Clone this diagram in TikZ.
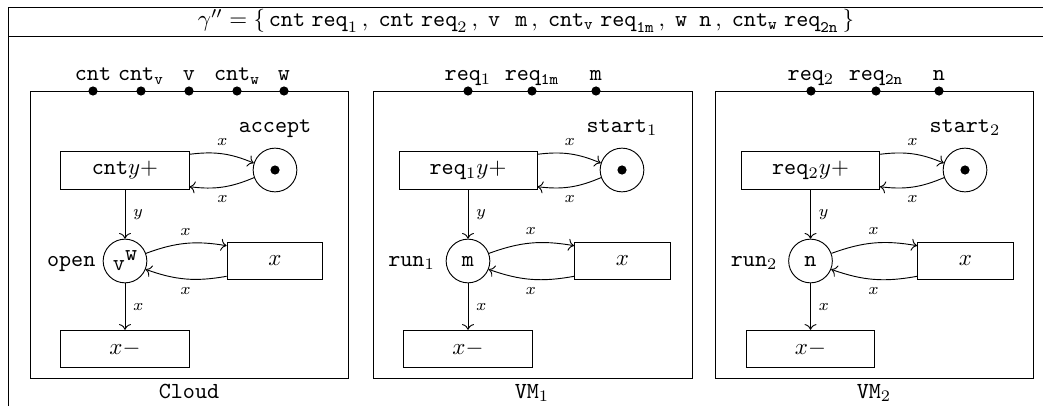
\documentclass[tikz,border=0pt]{standalone}
\usepackage{amsmath}
\usepackage{tikz}
\usetikzlibrary{positioning,arrows.meta}

\begin{document}
\begin{tikzpicture}[x=0.4348pt,y=0.4348pt,
  trn/.style={draw,minimum height=16.3pt,inner sep=0pt},
  plc/.style={draw,circle,minimum size=19pt,inner sep=0pt},
  tok/.style={fill,circle,inner sep=0pt,minimum size=4pt},
  port/.style={fill,circle,inner sep=0pt,minimum size=4pt},
  plbl/.style={inner sep=0pt,text depth=0pt,label distance=2pt,font=\ttfamily},
  el/.style={font=\scriptsize}]
\useasboundingbox (0,0) rectangle (1043,406);
% table frame
\draw (8,0) -- (8,399) -- (1043,399);
\draw (8,369.5) -- (1043,369.5);
\node (hdr) at (526,385) {$\gamma'' = \{\,\texttt{cnt}\;\texttt{req}_1\,,\;\texttt{cnt}\;\texttt{req}_2\,,\;\texttt{v}\ \ \texttt{m}\,,\;\texttt{cnt}_{\texttt{v}}\;\texttt{req}_{\texttt{1m}}\,,\;\texttt{w n}\,,\;\texttt{cnt}_{\texttt{w}}\;\texttt{req}_{\texttt{2n}}\,\}$};
% Cloud
\begin{scope}
  \draw (30,28) rectangle (348,315);
  \node[port,label={[plbl]above:cnt}] (pc) at (93,315) {};
  \node[port,label={[plbl]above:cnt$_{\texttt{v}}$}] (pcv) at (141,315) {};
  \node[port,label={[plbl]above:v}] (pv) at (189,315) {};
  \node[port,label={[plbl]above:cnt$_{\texttt{w}}$}] (pcw) at (237,315) {};
  \node[port,label={[plbl]above:w}] (pw) at (284,315) {};
  \node[trn,minimum width=55.7pt] (cinc) at (125,235.5) {\texttt{cnt}$y{+}$};
  \node[plc,label={[plbl,label distance=6.5pt]above:accept}] (accept) at (275,236) {};
  \node[tok] (acctok) at (accept) {};
  \node[plc,label={[plbl,label distance=3pt]left:open}] (open) at (125,145) {\texttt{v}\raisebox{4.3pt}{\texttt{w}}};
  \node[trn,minimum width=41.7pt] (cx) at (275,145) {$x$};
  \node[trn,minimum width=55.7pt] (cdec) at (125,57) {$x-$};
  \draw[->] ([yshift=-1.3pt]cinc.north east) to[bend left=15] node[el,above]{$x$} (accept.162);
  \draw[->] (accept.200) to[bend left=15] node[el,below]{$x$} ([yshift=1.3pt]cinc.south east);
  \draw[->] (cinc) -- node[el,right]{$y$} (open);
  \draw[->] (open.20) to[bend left=15] node[el,above]{$x$} ([yshift=-1.7pt]cx.north west);
  \draw[->] ([yshift=1.7pt]cx.south west) to[bend left=15] node[el,below]{$x$} (open.338);
  \draw[->] (open) -- node[el,right]{$x$} (cdec);
  \node[anchor=base] (cloudlbl) at (189,8) {\texttt{Cloud}};
\end{scope}
% VM 1
\begin{scope}[shift={(343,0)}]
  \draw (30,28) rectangle (349,315);
  \node[port,label={[plbl]above:req$_1$}] (pr1) at (125,315) {};
  \node[port,label={[plbl]above:req$_{\texttt{1m}}$}] (pr1m) at (189,315) {};
  \node[port,label={[plbl]above:m}] (pm) at (253,315) {};
  \node[trn,minimum width=60pt] (inc1) at (125,235.5) {\texttt{req}$_1y{+}$};
  \node[plc,label={[plbl,label distance=6.5pt]above:start$_1$}] (start1) at (279,236) {};
  \node[tok] (tok1) at (start1) {};
  \node[plc,label={[plbl,label distance=4.5pt]left:run$_1$}] (run1) at (125,145) {\texttt{m}};
  \node[trn,minimum width=41.7pt] (x1) at (279.5,145) {$x$};
  \node[trn,minimum width=55.7pt] (dec1) at (125,57) {$x-$};
  \draw[->] ([yshift=-1.3pt]inc1.north east) to[bend left=15] node[el,above]{$x$} (start1.162);
  \draw[->] (start1.200) to[bend left=15] node[el,below]{$x$} ([yshift=1.3pt]inc1.south east);
  \draw[->] (inc1) -- node[el,right]{$y$} (run1);
  \draw[->] (run1.20) to[bend left=15] node[el,above]{$x$} ([yshift=-1.7pt]x1.north west);
  \draw[->] ([yshift=1.7pt]x1.south west) to[bend left=15] node[el,below]{$x$} (run1.338);
  \draw[->] (run1) -- node[el,right]{$x$} (dec1);
  \node[anchor=base] (vm1lbl) at (189,8) {\texttt{VM}$_1$};
\end{scope}
% VM 2
\begin{scope}[shift={(685,0)}]
  \draw (30,28) rectangle (348,315);
  \node[port,label={[plbl]above:req$_2$}] (pr2) at (126,315) {};
  \node[port,label={[plbl]above:req$_{\texttt{2n}}$}] (pr2n) at (191,315) {};
  \node[port,label={[plbl]above:n}] (pn) at (254,315) {};
  \node[trn,minimum width=60pt] (inc2) at (125.5,235.5) {\texttt{req}$_2y{+}$};
  \node[plc,label={[plbl,label distance=6.5pt]above:start$_2$}] (start2) at (280,236) {};
  \node[tok] (tok2) at (start2) {};
  \node[plc,label={[plbl,label distance=4.5pt]left:run$_2$}] (run2) at (125.5,145) {\texttt{n}};
  \node[trn,minimum width=41.7pt] (x2) at (280.5,145) {$x$};
  \node[trn,minimum width=55.7pt] (dec2) at (125.5,57) {$x-$};
  \draw[->] ([yshift=-1.3pt]inc2.north east) to[bend left=15] node[el,above]{$x$} (start2.162);
  \draw[->] (start2.200) to[bend left=15] node[el,below]{$x$} ([yshift=1.3pt]inc2.south east);
  \draw[->] (inc2) -- node[el,right]{$y$} (run2);
  \draw[->] (run2.20) to[bend left=15] node[el,above]{$x$} ([yshift=-1.7pt]x2.north west);
  \draw[->] ([yshift=1.7pt]x2.south west) to[bend left=15] node[el,below]{$x$} (run2.338);
  \draw[->] (run2) -- node[el,right]{$x$} (dec2);
  \node[anchor=base] (vm2lbl) at (189,8) {\texttt{VM}$_2$};
\end{scope}
\end{tikzpicture}
\end{document}
